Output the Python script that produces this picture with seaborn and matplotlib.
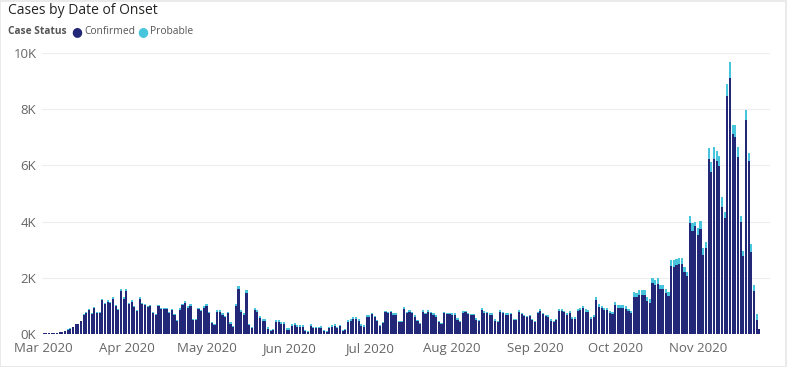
import matplotlib
matplotlib.use("Agg")
import matplotlib.pyplot as plt
import seaborn as sns
import pandas as pd
import numpy as np

# Daily counts, 1 Mar 2020 -> 24 Nov 2020
start_date = "2020-03-01"
confirmed = [
    20, 20, 30, 30, 40, 50, 70, 80, 110, 160, 190, 250, 340, 350, 450,
    660, 730, 840, 710, 910, 760, 760, 1200, 1060, 1150, 1110, 1250, 1010, 860, 1540,
    1250, 1540, 1060, 1150, 960, 810, 1250, 1070, 1030, 960, 1000, 760, 660, 1000, 880,
    880, 880, 760, 840, 660, 460, 870, 1020, 1110, 930, 1010, 490, 490, 880, 810,
    940, 1000, 730, 380, 310, 800, 800, 690, 590, 730, 370, 250, 1010, 1600, 800,
    660, 1460, 310, 200, 850, 800, 580, 470, 470, 190, 110, 140, 440, 440, 360,
    360, 150, 150, 300, 320, 260, 260, 250, 100, 80, 290, 210, 210, 210, 230,
    100, 70, 210, 250, 300, 210, 270, 100, 150, 440, 460, 530, 530, 460, 300,
    260, 610, 610, 700, 590, 450, 270, 380, 770, 730, 770, 690, 690, 440, 410,
    890, 750, 800, 740, 620, 460, 360, 800, 710, 800, 730, 690, 620, 440, 340,
    740, 710, 710, 690, 690, 510, 410, 760, 780, 710, 660, 660, 510, 460, 870,
    760, 740, 690, 690, 480, 440, 800, 740, 690, 690, 710, 510, 510, 800, 710,
    640, 590, 640, 510, 440, 730, 820, 710, 640, 620, 480, 410, 500, 830, 810,
    770, 680, 730, 530, 530, 820, 850, 910, 800, 780, 540, 600, 1200, 970, 910,
    840, 840, 730, 710, 1020, 920, 920, 920, 880, 810, 750, 1330, 1300, 1390, 1390,
    1390, 1180, 1120, 1800, 1730, 1780, 1600, 1600, 1460, 1370, 2420, 2400, 2450, 2490, 2500,
    2220, 2050, 3950, 3650, 3830, 3540, 3740, 2820, 3060, 6240, 5760, 6240, 6140, 5980, 4520,
    4130, 8480, 9120, 7100, 7020, 6290, 3980, 2760, 7620, 6170, 2930, 1520, 500, 170,
]
probable = [
    0, 0, 0, 0, 0, 0, 0, 0, 10, 10, 10, 10, 10, 10, 10,
    40, 40, 40, 40, 40, 40, 40, 50, 40, 50, 40, 50, 40, 40, 60,
    50, 60, 40, 50, 40, 40, 50, 50, 50, 40, 50, 40, 40, 50, 40,
    40, 40, 40, 50, 50, 50, 60, 60, 70, 60, 70, 50, 50, 60, 60,
    70, 70, 60, 50, 50, 70, 70, 60, 60, 60, 50, 50, 70, 100, 70,
    70, 90, 50, 50, 70, 70, 70, 70, 70, 50, 40, 40, 70, 70, 60,
    60, 50, 50, 60, 60, 60, 60, 60, 40, 40, 60, 50, 50, 50, 60,
    40, 30, 50, 60, 60, 50, 60, 40, 40, 60, 60, 70, 70, 60, 50,
    50, 60, 60, 60, 50, 50, 40, 50, 60, 60, 60, 50, 50, 40, 40,
    60, 50, 60, 50, 50, 40, 40, 60, 50, 60, 50, 50, 50, 40, 40,
    50, 50, 50, 50, 50, 50, 40, 50, 50, 50, 50, 50, 50, 40, 60,
    50, 50, 50, 50, 40, 40, 60, 50, 50, 50, 50, 40, 40, 60, 50,
    50, 50, 50, 40, 40, 60, 60, 50, 50, 50, 40, 40, 50, 70, 70,
    60, 60, 80, 70, 70, 80, 80, 90, 80, 80, 60, 70, 130, 100, 90,
    90, 90, 80, 80, 120, 100, 100, 100, 100, 90, 80, 170, 150, 160, 160,
    160, 130, 120, 200, 200, 200, 160, 160, 140, 130, 220, 220, 220, 220, 210,
    160, 140, 260, 300, 170, 230, 280, 230, 200, 380, 360, 400, 360, 350, 340,
    200, 420, 550, 350, 430, 350, 230, 190, 360, 280, 280, 240, 210, 20,
]
month_labels = ["Mar 2020", "Apr 2020", "May 2020", "Jun 2020", "Jul 2020",
                "Aug 2020", "Sep 2020", "Oct 2020", "Nov 2020"]
y_ticks = [0, 2000, 4000, 6000, 8000, 10000]
y_tick_labels = ["0K", "2K", "4K", "6K", "8K", "10K"]

dates = pd.date_range(start_date, periods=len(confirmed), freq="D")
day = (dates - dates[0]).days
df = pd.DataFrame({"day": day, "Confirmed": confirmed, "Probable": probable})
df["Total"] = df["Confirmed"] + df["Probable"]

c_conf = "#222778"
c_prob = "#46C5DC"

sns.set_theme(style="white")
plt.rcParams["font.family"] = ["Open Sans", "DejaVu Sans"]

W, H = 800, 367
fig = plt.figure(figsize=(W / 100, H / 100), dpi=100)
ax = fig.add_axes([0.0525, 0.0899, 0.91, 0.7657])

sns.barplot(data=df, x="day", y="Total", native_scale=True, color=c_prob,
            width=0.8, linewidth=0, saturation=1, ax=ax, errorbar=None)
sns.barplot(data=df, x="day", y="Confirmed", native_scale=True, color=c_conf,
            width=0.8, linewidth=0, saturation=1, ax=ax, errorbar=None)

ax.set_ylim(0, 10000)
ax.set_xlim(-0.6, 272)
ax.set_yticks(y_ticks)
ax.set_yticklabels(y_tick_labels)
month_starts = pd.date_range(start_date, periods=len(month_labels), freq="MS")
ax.set_xticks((month_starts - dates[0]).days)
ax.set_xticklabels(month_labels)
ax.set_xlabel("")
ax.set_ylabel("")
ax.grid(axis="y", color="#EDEDED", linewidth=0.8)
ax.set_axisbelow(True)
for s in ax.spines.values():
    s.set_visible(False)
ax.tick_params(axis="both", length=0, colors="#666666", labelsize=9.5)
ax.tick_params(axis="y", pad=4)
ax.tick_params(axis="x", pad=6)

def px(x, y):
    return x / W, 1 - y / H

fig.text(*px(8, 11), "Cases by Date of Onset", fontsize=10, color="#252423",
         ha="left", va="center")
fig.text(*px(8, 32), "Case Status", fontsize=7.3, color="#555555",
         fontweight="bold", ha="left", va="center")
fig.text(*px(77, 32), "\u25CF", fontsize=9, color=c_conf, ha="center", va="center",
         family=["DejaVu Sans"])
fig.text(*px(84, 32), "Confirmed", fontsize=7.4, color="#555555", ha="left", va="center")
fig.text(*px(143, 32), "\u25CF", fontsize=9, color=c_prob, ha="center", va="center",
         family=["DejaVu Sans"])
fig.text(*px(150, 32), "Probable", fontsize=7.4, color="#555555", ha="left", va="center")

# light frame of the visual
frame = plt.Rectangle((0.0, 0.0), 0.983, 0.997, transform=fig.transFigure,
                      fill=False, edgecolor="#E6E6E6", linewidth=1.2)
fig.add_artist(frame)

fig.savefig("out.png", dpi=100, facecolor="white")
